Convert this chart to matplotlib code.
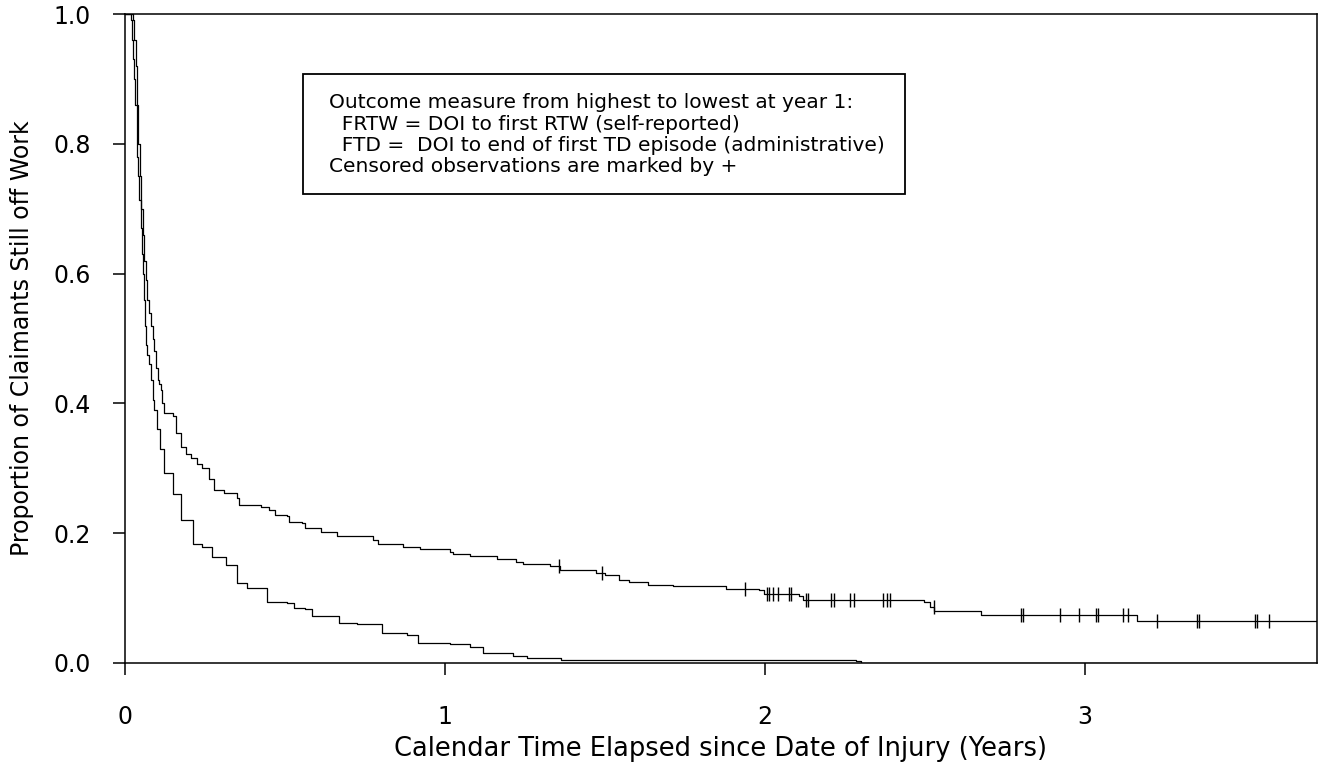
import numpy as np
import matplotlib
matplotlib.use("Agg")
import matplotlib.pyplot as plt
from matplotlib.patches import Rectangle

plt.rcParams['font.family'] = ['DejaVu Sans']

# Kaplan-Meier type curves (years, proportion still off work)
frtw_t = [0.0, 0.020, 0.024, 0.029, 0.034, 0.038, 0.042, 0.046, 0.050, 0.055, 0.060, 0.065,
          0.070, 0.075, 0.080, 0.086, 0.091, 0.097, 0.102, 0.107, 0.112, 0.117, 0.122, 0.149,
          0.160, 0.174, 0.190, 0.206, 0.225, 0.242, 0.262, 0.278, 0.310, 0.351, 0.356, 0.424,
          0.450, 0.470, 0.507, 0.512, 0.553, 0.564, 0.611, 0.663, 0.756, 0.775, 0.792, 0.870,
          0.922, 0.995, 1.016, 1.026, 1.078, 1.161, 1.223, 1.244, 1.327, 1.358, 1.441, 1.473,
          1.500, 1.545, 1.576, 1.633, 1.711, 1.877, 1.981, 1.997, 2.107, 2.118, 2.498, 2.515,
          2.529, 2.675, 3.161, 3.75]
frtw_s = [1.0, 1.0, 0.99, 0.96, 0.92, 0.86, 0.80, 0.75, 0.70, 0.66, 0.62, 0.59,
          0.56, 0.54, 0.52, 0.50, 0.48, 0.455, 0.436, 0.43, 0.42, 0.40, 0.385, 0.380,
          0.355, 0.333, 0.322, 0.316, 0.306, 0.300, 0.283, 0.267, 0.262, 0.254, 0.243, 0.241,
          0.235, 0.228, 0.226, 0.218, 0.216, 0.208, 0.202, 0.196, 0.195, 0.190, 0.184, 0.179,
          0.176, 0.175, 0.171, 0.168, 0.165, 0.161, 0.156, 0.153, 0.149, 0.144, 0.143, 0.139,
          0.135, 0.128, 0.125, 0.120, 0.118, 0.114, 0.112, 0.107, 0.103, 0.097, 0.094, 0.087,
          0.080, 0.074, 0.064, 0.064]

ftd_t = [0.0, 0.015, 0.019, 0.022, 0.025, 0.029, 0.032, 0.036, 0.039, 0.042, 0.045, 0.049,
         0.052, 0.056, 0.059, 0.063, 0.066, 0.070, 0.074, 0.081, 0.086, 0.091, 0.100, 0.110,
         0.122, 0.149, 0.174, 0.211, 0.242, 0.273, 0.315, 0.351, 0.382, 0.445, 0.507, 0.527,
         0.564, 0.585, 0.668, 0.725, 0.803, 0.881, 0.917, 1.016, 1.037, 1.078, 1.120, 1.213,
         1.255, 1.348, 1.364, 2.284, 2.300, 3.75]
ftd_s = [1.0, 1.0, 0.99, 0.96, 0.93, 0.90, 0.86, 0.82, 0.78, 0.75, 0.713, 0.67,
         0.63, 0.60, 0.56, 0.52, 0.49, 0.475, 0.46, 0.436, 0.405, 0.390, 0.360, 0.330,
         0.292, 0.261, 0.220, 0.184, 0.179, 0.164, 0.151, 0.123, 0.115, 0.094, 0.093, 0.084,
         0.083, 0.072, 0.061, 0.060, 0.046, 0.043, 0.031, 0.030, 0.029, 0.024, 0.015, 0.011,
         0.008, 0.007, 0.004, 0.003, 0.0, 0.0]

# censored observations on the FRTW curve (years)
frtw_cens = [1.356, 1.491, 1.937, 2.007, 2.013, 2.024, 2.040, 2.076, 2.081, 2.128, 2.133,
             2.206, 2.215, 2.267, 2.278, 2.368, 2.380, 2.390, 2.527, 2.800, 2.805, 2.922,
             2.982, 3.034, 3.040, 3.118, 3.133, 3.224, 3.350, 3.355, 3.531, 3.538, 3.576]

x_ticks = [0, 1, 2, 3]
y_ticks = [0.0, 0.2, 0.4, 0.6, 0.8, 1.0]

box_lines = ["Outcome measure from highest to lowest at year 1:",
             "  FRTW = DOI to first RTW (self-reported)",
             "  FTD =  DOI to end of first TD episode (administrative)",
             "Censored observations are marked by +"]


def step_value(t, s, x):
    idx = np.searchsorted(t, x, side='right') - 1
    return np.asarray(s)[idx]


fig = plt.figure(figsize=(13.18, 7.67), dpi=100)
ax = fig.add_axes([125/1318, 104/767, 1192/1318, 649/767])

ax.plot(frtw_t, frtw_s, drawstyle='steps-post', color='black', lw=0.9)
ax.plot(ftd_t, ftd_s, drawstyle='steps-post', color='black', lw=0.9)

cens_y = step_value(frtw_t, frtw_s, frtw_cens)
ax.plot(frtw_cens, cens_y, ls='none', marker='|', ms=9.5, mew=1.0, color='black')

ax.set_xlim(0, 3.725)
ax.set_ylim(0, 1.0)
ax.set_xticks(x_ticks)
ax.set_xticklabels([str(v) for v in x_ticks])
ax.set_yticks(y_ticks)
ax.set_yticklabels(["%.1f" % v for v in y_ticks])
ax.tick_params(axis='both', direction='out', length=8.6, width=1.1, labelsize=17)
ax.tick_params(axis='x', pad=22)
ax.tick_params(axis='y', pad=16)
for sp in ax.spines.values():
    sp.set_linewidth(1.1)

ax.set_xlabel("Calendar Time Elapsed since Date of Injury (Years)", fontsize=18.5)
ax.xaxis.set_label_coords(0.5, -0.112)
ax.set_ylabel("Proportion of Claimants Still off Work", fontsize=17, va='center')
ax.yaxis.set_label_coords(-0.0865, 0.5)

# annotation box
ax.add_patch(Rectangle((0.149, 0.7227), 0.505, 0.185, transform=ax.transAxes,
                       fill=False, lw=1.3, ec='black'))
for i, line in enumerate(box_lines):
    ax.text(0.171, 0.8629 - i * 0.0324, line, transform=ax.transAxes,
            fontsize=14.5, va='center', ha='left')

fig.savefig("out.png", dpi=100)
